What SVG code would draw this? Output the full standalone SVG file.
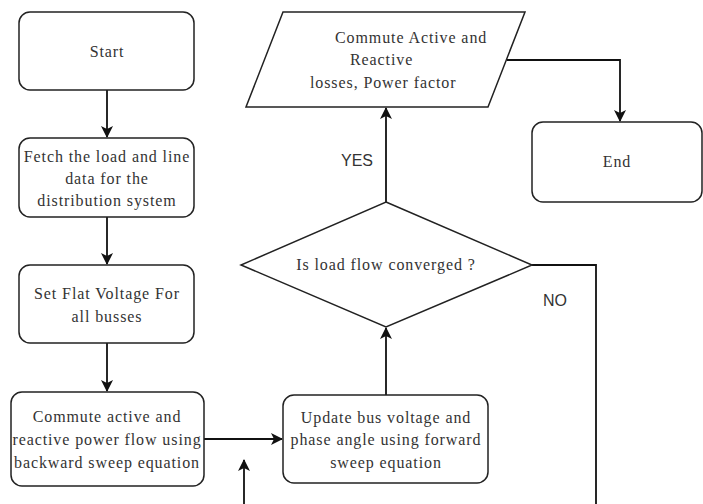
<svg xmlns="http://www.w3.org/2000/svg" width="703" height="504" viewBox="0 0 703 504">
<defs>
<marker id="ah" markerWidth="12" markerHeight="12" refX="11" refY="6" orient="auto" markerUnits="userSpaceOnUse">
<path d="M0,0 L12,6 L0,12 L3,6 Z" fill="#111"/>
</marker>
<style>
.box{fill:#fff;stroke:#222;stroke-width:1.5}
.t{font-family:"Liberation Serif","Times New Roman",serif;font-size:16px;letter-spacing:0.9px;fill:#333;text-anchor:middle}
.ts{font-family:"Liberation Sans",Arial,sans-serif;font-size:16px;fill:#333;text-anchor:middle}
.c{fill:none;stroke:#111;stroke-width:1.8}
</style>
</defs>
<rect width="703" height="504" fill="#fff"/>
<g id="connectors">
<path class="c" d="M107,90 V137" marker-end="url(#ah)"/>
<path class="c" d="M107,217 V264" marker-end="url(#ah)"/>
<path class="c" d="M107,343 V391" marker-end="url(#ah)"/>
<path class="c" d="M204,439 H282" marker-end="url(#ah)"/>
<path class="c" d="M244,504 V460" marker-end="url(#ah)"/>
<path class="c" d="M386,395 V328" marker-end="url(#ah)"/>
<path class="c" d="M386,202 V108" marker-end="url(#ah)"/>
<path class="c" d="M532,265 H596 V504"/>
<path class="c" d="M507,60 H620 V121" marker-end="url(#ah)"/>
<text class="ts" x="357" y="166">YES</text>
<text class="ts" x="555" y="306">NO</text>
</g>
<g id="start">
<rect class="box" x="19" y="12" width="175" height="78" rx="11"/>
<text class="t" x="107" y="57">Start</text>
</g>
<g id="fetch">
<rect class="box" x="19" y="138" width="175" height="79" rx="11"/>
<text class="t" x="107" y="162">Fetch the load and line</text>
<text class="t" x="107" y="184">data for the</text>
<text class="t" x="107" y="206">distribution system</text>
</g>
<g id="flat">
<rect class="box" x="19" y="265" width="175" height="78" rx="11"/>
<text class="t" x="107" y="299">Set Flat Voltage For</text>
<text class="t" x="107" y="322">all busses</text>
</g>
<g id="backward">
<rect class="box" x="11" y="392" width="193" height="94" rx="11"/>
<text class="t" x="107" y="422">Commute active and</text>
<text class="t" x="107" y="445">reactive power flow using</text>
<text class="t" x="107" y="468">backward sweep equation</text>
</g>
<g id="forward">
<rect class="box" x="283" y="395" width="205" height="88" rx="11"/>
<text class="t" x="386" y="423">Update bus voltage and</text>
<text class="t" x="386" y="445">phase angle using forward</text>
<text class="t" x="386" y="468">sweep equation</text>
</g>
<g id="decision">
<polygon class="box" points="386,202 532,265 386,327 241,265"/>
<text class="t" x="386" y="270">Is load flow converged ?</text>
</g>
<g id="output">
<polygon class="box" points="283,12 525,12 488,107 246,107"/>
<text class="t" x="335" y="43" style="text-anchor:start">Commute Active and</text>
<text class="t" x="350" y="65" style="text-anchor:start">Reactive</text>
<text class="t" x="310" y="88" style="text-anchor:start">losses, Power factor</text>
</g>
<g id="end">
<rect class="box" x="532" y="122" width="170" height="80" rx="11"/>
<text class="t" x="617" y="167">End</text>
</g>
</svg>
